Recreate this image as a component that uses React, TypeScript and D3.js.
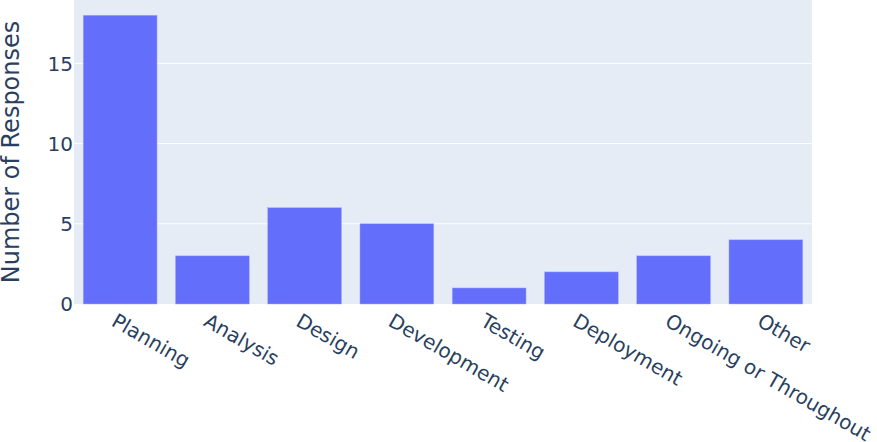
import React, { useEffect, useRef } from "react"
import * as d3 from "d3"

const categories = ["Planning", "Analysis", "Design", "Development", "Testing", "Deployment", "Ongoing or Throughout", "Other"]
const responses = [18, 3, 6, 5, 1, 2, 3, 4]
const yTicks = [0, 5, 10, 15]

const W = 877
const H = 442
const margin = { top: 0, right: 65, bottom: 138, left: 74 }

const drawChart = (wrapper: SVGSVGElement) => {
  const svg = d3.select(wrapper)
  svg.selectAll("*").remove()
  const w = W - margin.left - margin.right
  const h = H - margin.top - margin.bottom

  const x = d3.scaleBand().domain(categories).range([0, w]).paddingInner(0.2).paddingOuter(0.1)
  const y = d3.scaleLinear().domain([0, 18.95]).range([h, 0])

  const g = svg.append("g").attr("transform", `translate(${margin.left},${margin.top})`)

  g.append("rect").attr("width", w).attr("height", h).attr("fill", "#e5ecf6")

  g.selectAll("line.grid")
    .data(yTicks.filter(d => d > 0))
    .enter()
    .append("line")
    .attr("x1", 0)
    .attr("x2", w)
    .attr("y1", d => y(d))
    .attr("y2", d => y(d))
    .attr("stroke", "#fff")
    .attr("stroke-width", 1)

  g.selectAll("rect.bar")
    .data(responses)
    .enter()
    .append("rect")
    .attr("x", (d, i) => x(categories[i])!)
    .attr("width", x.bandwidth())
    .attr("y", d => y(d))
    .attr("height", d => h - y(d))
    .attr("fill", "#636efa")
    .attr("stroke", "#a6aefc")
    .attr("stroke-width", 0.5)

  // y tick labels
  g.selectAll("text.ytick")
    .data(yTicks)
    .enter()
    .append("text")
    .attr("x", -1)
    .attr("y", d => y(d))
    .attr("dy", "0.36em")
    .attr("text-anchor", "end")
    .attr("fill", "#2a3f5f")
    .style("font-size", "20px")
    .text(d => d)

  // x tick labels, rotated 30deg
  g.selectAll("text.xtick")
    .data(categories)
    .enter()
    .append("text")
    .attr("transform", d => `translate(${x(d)! + x.bandwidth() / 2 - 10},${h + 21}) rotate(30)`)
    .attr("text-anchor", "start")
    .attr("fill", "#2a3f5f")
    .style("font-size", "20px")
    .text(d => d)

  svg.append("text")
    .attr("transform", `translate(19,${margin.top + h / 2}) rotate(-90)`)
    .attr("text-anchor", "middle")
    .attr("fill", "#2a3f5f")
    .style("font-size", "24px")
    .text("Number of Responses")
}

export default function App() {
  const ref = useRef<SVGSVGElement>(null)
  useEffect(() => {
    if (ref.current) drawChart(ref.current)
  }, [])
  return (
    <svg
      ref={ref}
      width={W}
      height={H}
      style={{ position: "absolute", left: 0, top: 0, fontFamily: '"DejaVu Sans", verdana, sans-serif', background: "#fff" }}
    />
  )
}
